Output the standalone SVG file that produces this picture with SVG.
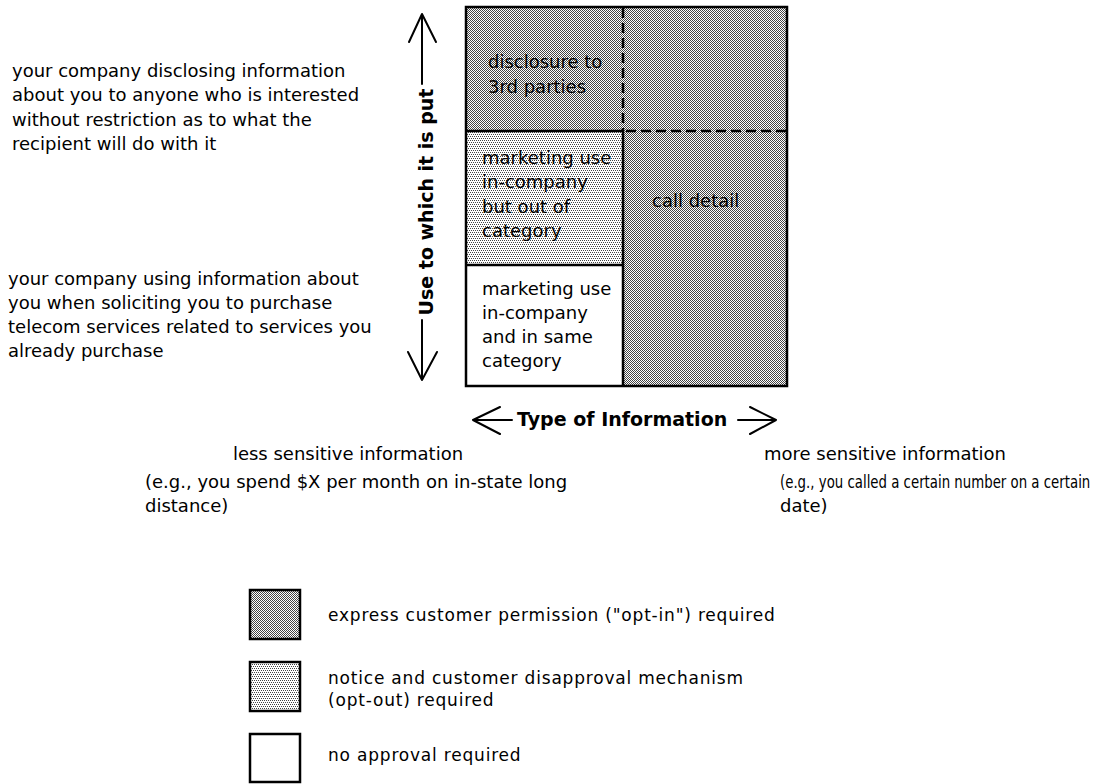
<svg xmlns="http://www.w3.org/2000/svg" width="1115" height="784" viewBox="0 0 1115 784">
<defs>
<pattern id="dark" width="2" height="2" patternUnits="userSpaceOnUse">
<rect width="2" height="2" fill="#fff"/>
<rect x="0" y="0" width="1" height="1" fill="#444"/>
<rect x="1" y="1" width="1" height="1" fill="#444"/>
</pattern>
<pattern id="light" width="4" height="4" patternUnits="userSpaceOnUse">
<rect width="4" height="4" fill="#fff"/>
<rect x="0" y="0" width="1" height="1" fill="#444"/>
<rect x="2" y="0" width="1" height="1" fill="#444"/>
<rect x="1" y="2" width="1" height="1" fill="#444"/>
<rect x="3" y="2" width="1" height="1" fill="#444"/>
</pattern>
<style>
text{font-family:"DejaVu Sans","Liberation Sans",sans-serif;font-size:18px;fill:#000}
.b{font-weight:bold;font-size:19px}
.lg{font-size:17px;letter-spacing:0.8px}
.ln{stroke:#000;stroke-width:2.5;fill:none}
.bx{stroke:#000;stroke-width:2.5}
.ar{stroke:#000;stroke-width:2;fill:none;stroke-linecap:round;stroke-linejoin:round}
.dash{stroke:#000;stroke-width:2.5;stroke-dasharray:10 5;fill:none}
</style>
</defs>
<rect width="1115" height="784" fill="#fff"/>

<g id="left-desc">
<text x="12" y="77">your company disclosing information</text>
<text x="12" y="101">about you to anyone who is interested</text>
<text x="12" y="126">without restriction as to what the</text>
<text x="12" y="150">recipient will do with it</text>
<text x="8" y="285">your company using information about</text>
<text x="8" y="309">you when soliciting you to purchase</text>
<text x="8" y="333">telecom services related to services you</text>
<text x="8" y="357">already purchase</text>
</g>

<g id="cell-disclosure">
<rect x="466" y="7" width="157" height="124" fill="url(#dark)"/>
<text x="488" y="68">disclosure to</text>
<text x="488" y="93">3rd parties</text>
</g>
<g id="cell-call-detail">
<rect x="623" y="7" width="164" height="379" fill="url(#dark)"/>
<text x="652" y="207">call detail</text>
</g>
<g id="cell-out-of-category">
<rect x="466" y="131" width="157" height="134" fill="url(#light)"/>
<text x="482" y="164">marketing use</text>
<text x="482" y="188">in-company</text>
<text x="482" y="213">but out of</text>
<text x="482" y="237">category</text>
</g>
<g id="cell-same-category">
<rect x="466" y="265" width="157" height="121" fill="#fff"/>
<text x="482" y="295">marketing use</text>
<text x="482" y="319">in-company</text>
<text x="482" y="343">and in same</text>
<text x="482" y="367">category</text>
</g>

<g id="connectors">
<rect class="ln" x="466" y="7" width="321" height="379"/>
<line class="ln" x1="623" y1="131" x2="623" y2="386"/>
<line class="ln" x1="466" y1="131" x2="623" y2="131"/>
<line class="ln" x1="466" y1="265" x2="623" y2="265"/>
<line class="dash" x1="623" y1="8" x2="623" y2="131"/>
<line class="dash" x1="626" y1="131" x2="786" y2="131"/>
<path class="ar" d="M422 84 V14 M409 42 L422 14 L436 42"/>
<path class="ar" d="M422 320 V380 M408 352 L422 380 L437 352"/>
<path class="ar" d="M512 420 H473 M500 407 L473 420 L500 434"/>
<path class="ar" d="M738 420 H776 M750 407 L776 420 L750 434"/>
</g>

<g id="axis-labels">
<text class="b" transform="translate(433 202) rotate(-90)" text-anchor="middle">Use to which it is put</text>
<text class="b" x="517" y="426">Type of Information</text>
</g>

<g id="sensitivity">
<text x="348" y="460" text-anchor="middle">less sensitive information</text>
<text x="145" y="488">(e.g., you spend $X per month on in-state long</text>
<text x="145" y="512">distance)</text>
<text x="885" y="460" text-anchor="middle">more sensitive information</text>
<text transform="translate(780 488) scale(0.74 1)" x="0" y="0">(e.g., you called a certain number on a certain</text>
<text x="780" y="512">date)</text>
</g>

<g id="legend-optin">
<rect class="bx" x="250" y="590" width="50" height="49" fill="url(#dark)"/>
<text class="lg" x="328" y="621">express customer permission ("opt-in") required</text>
</g>
<g id="legend-optout">
<rect class="bx" x="250" y="662" width="50" height="49" fill="url(#light)"/>
<text class="lg" x="328" y="684">notice and customer disapproval mechanism</text>
<text class="lg" x="328" y="706">(opt-out) required</text>
</g>
<g id="legend-none">
<rect class="bx" x="250" y="734" width="50" height="48" fill="#fff"/>
<text class="lg" x="328" y="761">no approval required</text>
</g>
</svg>
